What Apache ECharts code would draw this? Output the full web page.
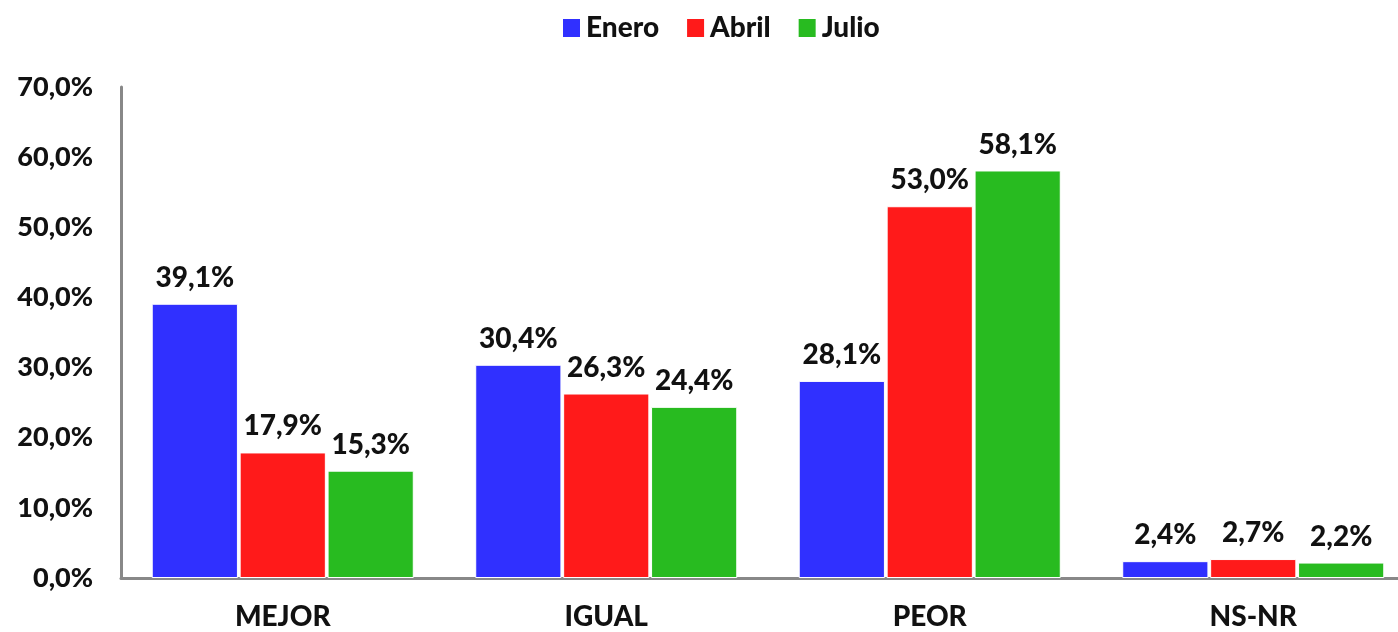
<!DOCTYPE html>
<html>
<head>
<meta charset="utf-8">
<script src="https://cdn.jsdelivr.net/npm/echarts@6/dist/echarts.min.js"></script>
<style>
  html, body { margin: 0; padding: 0; background: #fff; }
  #chart { width: 1398px; height: 632px; }
</style>
</head>
<body>
<div id="chart"></div>
<script>
// Survey answers by category, three waves (percent)
const categories = ['MEJOR', 'IGUAL', 'PEOR', 'NS-NR'];
const enero = [39.1, 30.4, 28.1, 2.4];
const abril = [17.9, 26.3, 53.0, 2.7];
const julio = [15.3, 24.4, 58.1, 2.2];
const seriesNames = ['Enero', 'Abril', 'Julio'];
const seriesColors = ['#3030ff', '#ff1a1a', '#28bb20'];

const FONT = 'Lato, "Open Sans", sans-serif';
const WEIGHT = 900;
const pct = v => v.toFixed(1).replace('.', ',') + '%';

const chart = echarts.init(document.getElementById('chart'));

const makeSeries = (name, data, color) => ({
  name,
  type: 'bar',
  data,
  barGap: '2%',
  barCategoryGap: '19%',
  itemStyle: { color, borderColor: '#fff', borderWidth: 1 },
  label: {
    show: true,
    position: 'top',
    distance: 12,
    formatter: p => pct(p.value),
    color: '#111',
    fontFamily: FONT,
    fontWeight: WEIGHT,
    fontSize: 28
  }
});

chart.setOption({
  animation: false,
  backgroundColor: '#fff',
  legend: {
    top: 9,
    left: 556,
    icon: 'rect',
    itemWidth: 19,
    itemHeight: 20,
    itemGap: 26,
    textStyle: { fontFamily: FONT, fontWeight: WEIGHT, fontSize: 28, color: '#111' },
    data: seriesNames
  },
  // the plot runs slightly past the right edge of the canvas
  grid: {
    left: 121, width: 1294, top: 87, bottom: 54,
    containLabel: false,
    outerBoundsMode: 'none'
  },
  xAxis: {
    type: 'category',
    data: categories,
    axisLine: { lineStyle: { color: '#888', width: 3 } },
    axisTick: { show: false },
    axisLabel: { margin: 25, color: '#111', fontFamily: FONT, fontWeight: WEIGHT, fontSize: 28 }
  },
  yAxis: {
    type: 'value',
    min: 0,
    max: 70,
    interval: 10,
    splitLine: { show: false },
    axisLine: { show: true, lineStyle: { color: '#888', width: 3 } },
    axisTick: { show: false },
    axisLabel: {
      margin: 28,
      formatter: v => pct(v),
      color: '#111',
      fontFamily: FONT,
      fontWeight: WEIGHT,
      fontSize: 27
    }
  },
  series: [
    makeSeries(seriesNames[0], enero, seriesColors[0]),
    makeSeries(seriesNames[1], abril, seriesColors[1]),
    makeSeries(seriesNames[2], julio, seriesColors[2])
  ]
});
</script>
</body>
</html>
